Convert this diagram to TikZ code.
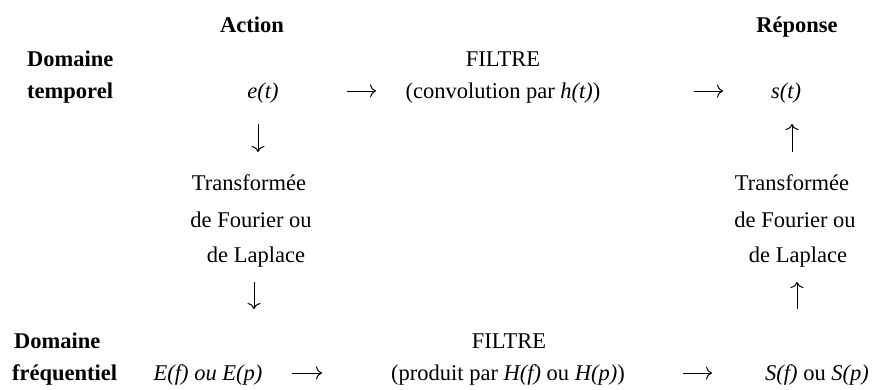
\documentclass[tikz,border=0pt]{standalone}
\usepackage{fontspec}
\setmainfont{Liberation Serif}
\usetikzlibrary{arrows.meta}
\begin{document}
\begin{tikzpicture}[x=1pt,y=-1pt,
  txt/.style={anchor=base,inner sep=0pt,font=\fontsize{22.5}{27}\selectfont},
  hdr/.style={txt,font=\fontsize{22.5}{27}\selectfont\bfseries},
  flow/.style={line width=1pt,-{To[length=6pt,width=13pt,line width=1pt]}}]
\useasboundingbox (0,0) rectangle (872,389);
% headers
\node[hdr] (action) at (252,32) {Action};
\node[hdr] (reponse) at (797,32) {Réponse};
% time domain row
\node[hdr,anchor=base west] (dom1) at (27,66) {Domaine};
\node[hdr,anchor=base west] (temp) at (27,98) {temporel};
\node[txt] (et) at (263,98) {\itshape e(t)};
\node[txt] (filtre1) at (503,66) {FILTRE};
\node[txt] (conv) at (503,98) {(convolution par \textit{h(t)})};
\node[txt] (st) at (786,98) {\itshape s(t)};
\coordinate (a1s) at (347,91); \coordinate (a1e) at (376,91);
\coordinate (a2s) at (694,91); \coordinate (a2e) at (723,91);
\draw[flow] (a1s) -- (a1e);
\draw[flow] (a2s) -- (a2e);
% left transform column
\coordinate (d1s) at (258,124); \coordinate (d1e) at (258,152);
\draw[flow] (d1s) -- (d1e);
\node[txt] (tl1) at (249,190) {Transformée};
\node[txt] (tl2) at (251,227) {de Fourier ou};
\node[txt] (tl3) at (256,262) {de Laplace};
\coordinate (d2s) at (254,282); \coordinate (d2e) at (254,309);
\draw[flow] (d2s) -- (d2e);
% right transform column
\coordinate (u1s) at (792,152); \coordinate (u1e) at (792,124);
\draw[flow] (u1s) -- (u1e);
\node[txt] (tr1) at (792,190) {Transformée};
\node[txt] (tr2) at (795,227) {de Fourier ou};
\node[txt] (tr3) at (798,262) {de Laplace};
\coordinate (u2s) at (797,309); \coordinate (u2e) at (797,282);
\draw[flow] (u2s) -- (u2e);
% frequency domain row
\node[hdr,anchor=base west] (dom2) at (14,348) {Domaine};
\node[hdr,anchor=base west] (freq) at (12,380) {fréquentiel};
\node[txt] (Ef) at (208,380) {\itshape E(f) ou E(p)};
\node[txt] (filtre2) at (509,348) {FILTRE};
\node[txt] (prod) at (508,380) {(produit par \textit{H(f)} ou \textit{H(p)})};
\node[txt] (Sf) at (817,380) {\textit{S(f)} ou \textit{S(p)}};
\coordinate (a3s) at (292,373); \coordinate (a3e) at (322,373);
\coordinate (a4s) at (683,373); \coordinate (a4e) at (712,373);
\draw[flow] (a3s) -- (a3e);
\draw[flow] (a4s) -- (a4e);
\end{tikzpicture}
\end{document}
